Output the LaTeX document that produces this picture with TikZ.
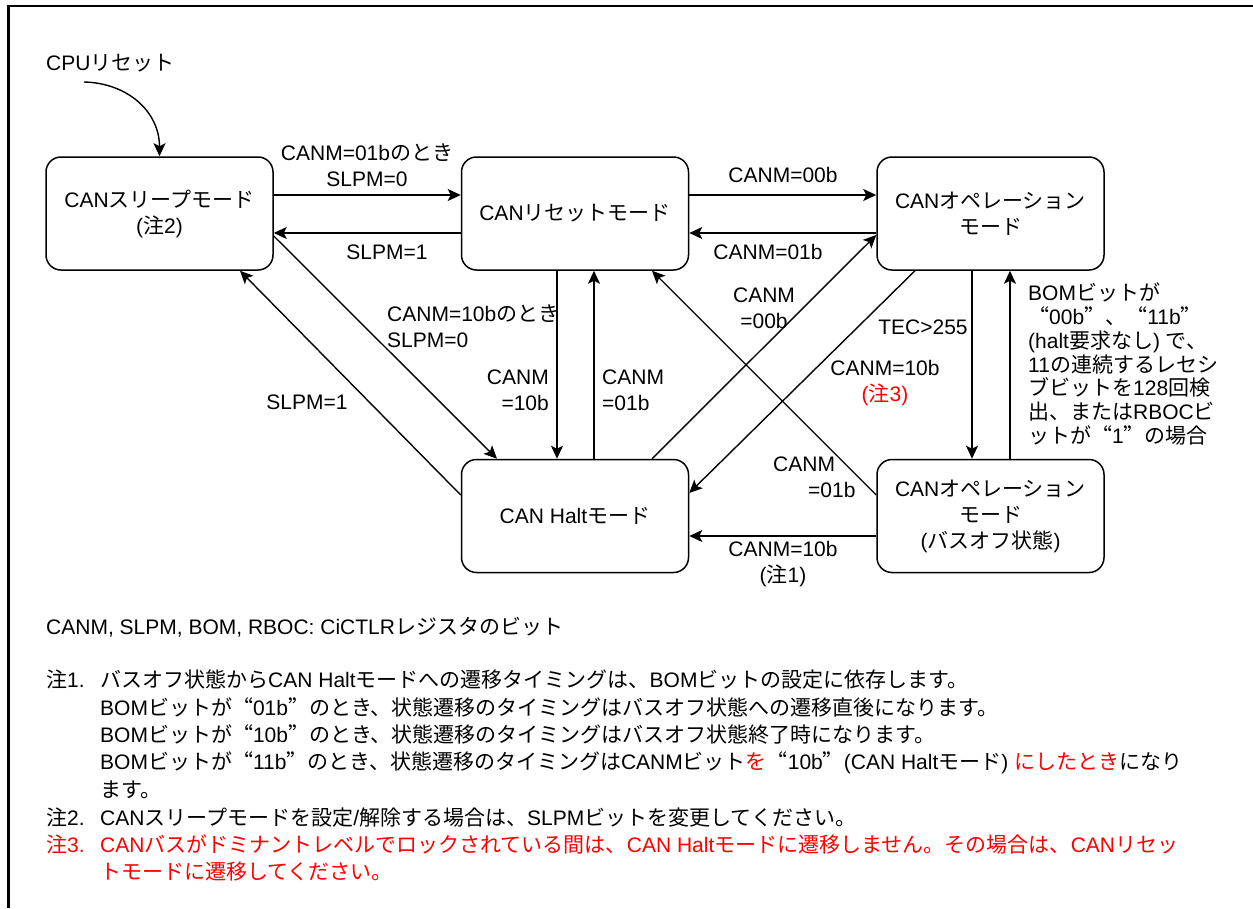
\documentclass[tikz,border=0pt]{standalone}
\usepackage{fontspec}
\setmainfont{Liberation Sans}
\newfontfamily\latinfont{Liberation Sans}
\newfontfamily\jpfont[RawFeature=+fwid]{Noto Sans CJK JP}
\usetikzlibrary{arrows.meta}
\XeTeXinterchartokenstate=1
\newXeTeXintercharclass\JPclass
\newcount\jpcnt
\newcommand\setjprange[2]{\jpcnt=#1\relax\loop\XeTeXcharclass\jpcnt=\JPclass\relax\ifnum\jpcnt<#2\relax\advance\jpcnt by 1\relax\repeat}
\setjprange{"3000}{"30FF}
\setjprange{"4E00}{"9FFF}
\setjprange{"FF00}{"FFEF}
\setjprange{"2018}{"201D}
\XeTeXinterchartoks 0 \JPclass = {\jpfont}
\XeTeXinterchartoks 4095 \JPclass = {\jpfont}
\XeTeXinterchartoks \JPclass 0 = {\latinfont}
\XeTeXinterchartoks 4095 0 = {\latinfont}
\tikzset{
  state/.style={draw, line width=1.5pt, rounded corners=15pt, minimum width=227pt, minimum height=113pt, align=center, inner sep=0pt},
  lbl/.style={inner sep=0pt, align=center},
  arr/.style={line width=1.4pt, -{Stealth[length=13pt,width=12pt,inset=3pt]}},
  note/.style={inner sep=0pt, anchor=base west},
}
\begin{document}
\begin{tikzpicture}[x=1pt,y=-1pt,font=\fontsize{21}{26}\selectfont]
\useasboundingbox (0,0) rectangle (1253,908);
\draw[line width=2.6pt, line join=miter] (8.5,908) -- (8.5,6) -- (1253,6);

% states
\node[state] (sleep) at (159.5,213.5) {CANスリープモード\\(注2)};
\node[state] (reset) at (575,213.5) {CANリセットモード};
\node[state] (op) at (990.5,213.5) {CANオペレーション\\モード};
\node[state] (halt) at (575,516) {CAN Haltモード};
\node[state] (busoff) at (990.5,516) {CANオペレーション\\モード\\(バスオフ状態)};

% CPU reset
\node[lbl, anchor=west] (cputxt) at (46,63) {CPUリセット};
\coordinate (cpu) at (84,82);
\draw[arr] (cpu) .. controls (128,83) and (159.5,112) .. (sleep.north);

% horizontal transitions
\draw[arr] ([yshift=18.5pt]sleep.east) -- ([yshift=18.5pt]reset.west);
\draw[arr] ([yshift=-19.5pt]reset.west) -- ([yshift=-19.5pt]sleep.east);
\draw[arr] ([yshift=18.5pt]reset.east) -- ([yshift=18.5pt]op.west);
\draw[arr] ([yshift=-19.5pt]op.west) -- ([yshift=-19.5pt]reset.east);
\draw[arr] ([yshift=-20pt]busoff.west) -- ([yshift=-20pt]halt.east);

% vertical transitions
\draw[arr] ([xshift=-18pt]reset.south) -- ([xshift=-18pt]halt.north);
\draw[arr] ([xshift=19pt]halt.north) -- ([xshift=19pt]reset.south);
\draw[arr] ([xshift=-18.5pt]op.south) -- ([xshift=-18.5pt]busoff.north);
\draw[arr] ([xshift=19.5pt]busoff.north) -- ([xshift=19.5pt]op.south);

% diagonal transitions
\draw[arr] ([yshift=-22.5pt]sleep.east) -- ([xshift=-78pt]halt.north);
\draw[arr] ([yshift=21pt]halt.west) -- ([xshift=80.5pt]sleep.south);
\draw[arr] ([xshift=77pt]halt.north) -- ([yshift=-21.5pt]op.west);
\draw[arr] ([xshift=-75.5pt]op.south) -- ([yshift=23pt]halt.east);
\draw[arr] ([yshift=21pt]busoff.west) -- ([xshift=77pt]reset.south);

% labels
\node[lbl] (l1) at (367,165) {CANM=01bのとき\\SLPM=0};
\node[lbl] (l2) at (387,252) {SLPM=1};
\node[lbl] (l3) at (783,175) {CANM=00b};
\node[lbl] (l4) at (768,252) {CANM=01b};
\node[lbl, anchor=west, align=left] (l5) at (387,326) {CANM=10bのとき\\SLPM=0};
\node[lbl, anchor=east, align=right] (l6) at (549,390) {CANM\\=10b};
\node[lbl, anchor=west, align=left] (l7) at (602,390) {CANM\\=01b};
\node[lbl] (l8) at (307,402) {SLPM=1};
\node[lbl] (l9) at (764,308) {CANM\\=00b};
\node[lbl] (l10) at (923,327) {TEC>255};
\node[lbl] (l11) at (885,383) {CANM=10b\\{\color{red}(注3)}};
\node[lbl, anchor=west, align=left] (l12) at (773,477) {CANM\\\hspace*{35pt}=01b};
\node[lbl] (l13) at (783,564) {CANM=10b\\(注1)};
\node[lbl, anchor=west, align=left, font=\fontsize{21}{23.7}\selectfont] (l14) at (1028,364)
  {BOMビットが\\“00b”、“11b”\\(halt要求なし) で、\\11の連続するレセシ\\ブビットを128回検\\出、またはRBOCビ\\ットが“1”の場合};

% notes
\node[note] (n0) at (46,634.5) {CANM, SLPM, BOM, RBOC: CiCTLRレジスタのビット};
\node[note] (n1h) at (46,687.5) {注1.};
\node[note] (n1a) at (100,687.5) {バスオフ状態からCAN Haltモードへの遷移タイミングは、BOMビットの設定に依存します。};
\node[note] (n1b) at (100,715.5) {BOMビットが“01b”のとき、状態遷移のタイミングはバスオフ状態への遷移直後になります。};
\node[note] (n1c) at (100,742.5) {BOMビットが“10b”のとき、状態遷移のタイミングはバスオフ状態終了時になります。};
\node[note] (n1d) at (100,769.5) {BOMビットが“11b”のとき、状態遷移のタイミングはCANMビット\color{red}を\color{black}“10b”(CAN Haltモード) \color{red}にしたとき\color{black}になり};
\node[note] (n1e) at (100,797.5) {ます。};
\node[note] (n2h) at (46,825.5) {注2.};
\node[note] (n2a) at (100,825.5) {CANスリープモードを設定/解除する場合は、SLPMビットを変更してください。};
\node[note, text=red] (n3h) at (46,852.5) {注3.};
\node[note, text=red] (n3a) at (100,852.5) {CANバスがドミナントレベルでロックされている間は、CAN Haltモードに遷移しません。その場合は、CANリセッ};
\node[note, text=red] (n3b) at (100,879.5) {トモードに遷移してください。};
\end{tikzpicture}
\end{document}
